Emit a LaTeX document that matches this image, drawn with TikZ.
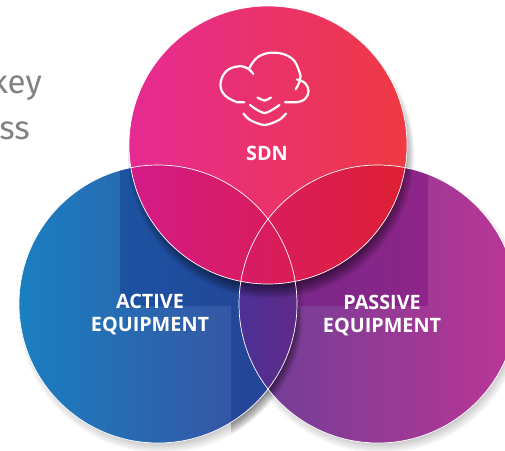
\documentclass[tikz,border=0pt]{standalone}
\usepackage{fontspec}
\setmainfont{Fira Sans}
\newfontfamily\labelfont{Open Sans}
\definecolor{greytext}{HTML}{808285}
\definecolor{sdnl}{HTML}{E62A94}
\definecolor{sdnr}{HTML}{EF3A42}
\definecolor{overl}{HTML}{D41A88}
\definecolor{overr}{HTML}{DE1F33}
\definecolor{activel}{HTML}{1A7FC0}
\definecolor{activer}{HTML}{3D4A9C}
\definecolor{activedk}{HTML}{123A90}
\definecolor{passivel}{HTML}{6B3F96}
\definecolor{passiver}{HTML}{BC3595}
\definecolor{passivedk}{HTML}{760B78}
\definecolor{lensl}{HTML}{4D3096}
\definecolor{lensr}{HTML}{5F2A88}
\tikzset{
  venn/.style={circle, inner sep=0pt, outer sep=0pt, minimum size=278pt},
  ring/.style={draw=white, line width=.7pt},
  venntext/.style={text=white, font=\labelfont\bfseries\fontsize{19.8}{23.5}\selectfont, align=center, inner sep=0pt},
  greyword/.style={text=greytext, font=\fontsize{33}{36}\selectfont, anchor=base east, inner sep=0pt},
  icon/.style={draw=white, line width=2.2pt, line cap=round},
}
\newcommand{\softshadow}[4]{% centre, dx, dy, opacity
  \foreach \d in {-11,-9.5,...,4}
  \fill[black, opacity=#4] ([shift={(#2,#3)}]#1) circle[radius=139+\d];
}
\begin{document}
\begin{tikzpicture}[x=1pt, y=-1pt]
  \useasboundingbox (0,0) rectangle (505,450);
  \coordinate (sdnc) at (268,145);
  \coordinate (activec) at (158,304);
  \coordinate (passivec) at (378,304);
  \node[greyword] (keyword) at (42,93) {key};
  \node[greyword] (ssword) at (30,139) {ss};
  % passive circle
  \softshadow{passivec}{3}{6}{.03}
  \node[venn, left color=passivel, right color=passiver] (passive) at (passivec) {};
  \begin{scope}
    \clip (passivec) circle[radius=139];
    \fill[passivedk, opacity=.42] (230,150) rectangle (428,306);
  \end{scope}
  % active circle
  \softshadow{activec}{3}{6}{.03}
  \begin{scope}
    \clip (231,306) rectangle (300,450);
    \softshadow{activec}{3}{6}{.05}
  \end{scope}
  \node[venn, left color=activel, right color=activer] (active) at (activec) {};
  \begin{scope}
    \clip (activec) circle[radius=139];
    \fill[activedk, opacity=.5] (120,150) -- (300,150) -- (300,450) -- (231,450) -- (231,306) -- (120,306) -- cycle;
    \clip (passivec) circle[radius=139];
    \shade[left color=lensl, right color=lensr] (240,150) rectangle (297,450);
  \end{scope}
  % sdn circle
  \softshadow{sdnc}{3}{10}{.065}
  \node[venn, left color=sdnl, right color=sdnr] (sdn) at (sdnc) {};
  \foreach \other in {activec,passivec} {
    \begin{scope}
      \clip (sdnc) circle[radius=139];
      \clip (\other) circle[radius=139];
      \shade[left color=overl, right color=overr] (129,0) rectangle (407,290);
    \end{scope}
  }
  \foreach \c in {passivec,activec,sdnc}
  \draw[ring] (\c) circle[radius=139];
  % cloud
  \draw[icon] plot[smooth, tension=.7] coordinates {(253.3,74) (247,68) (237.3,66.5) (226,71.5) (220.5,84) (225,95.5) (237.3,102.3)} -- (244.3,102.3);
  \draw[icon] plot[smooth, tension=.7] coordinates {(249.3,68.3) (258.3,56.7) (275,52.7) (291.7,58.3) (299.3,71.7) (300,80) (295.7,89.3)};
  \draw[icon] plot[smooth, tension=.7] coordinates {(297,79.5) (305,83) (308.5,91) (305,99) (297,102.3)} -- (285,102.3);
  \draw[icon] plot[smooth] coordinates {(257.5,97.5) (264.5,100.5) (271,97.5)};
  \draw[icon] plot[smooth] coordinates {(250,105) (264.5,113) (279.5,105)};
  \draw[icon] plot[smooth] coordinates {(243.5,113.5) (250,120) (264.5,125) (279,120) (286,113.5)};
  % labels
  \node[venntext] (sdnlabel) at (267,153) {SDN};
  \node[venntext] (activelabel) at (150,314.5) {ACTIVE\\EQUIPMENT};
  \node[venntext] (passivelabel) at (382,315.5) {PASSIVE\\EQUIPMENT};
\end{tikzpicture}
\end{document}
